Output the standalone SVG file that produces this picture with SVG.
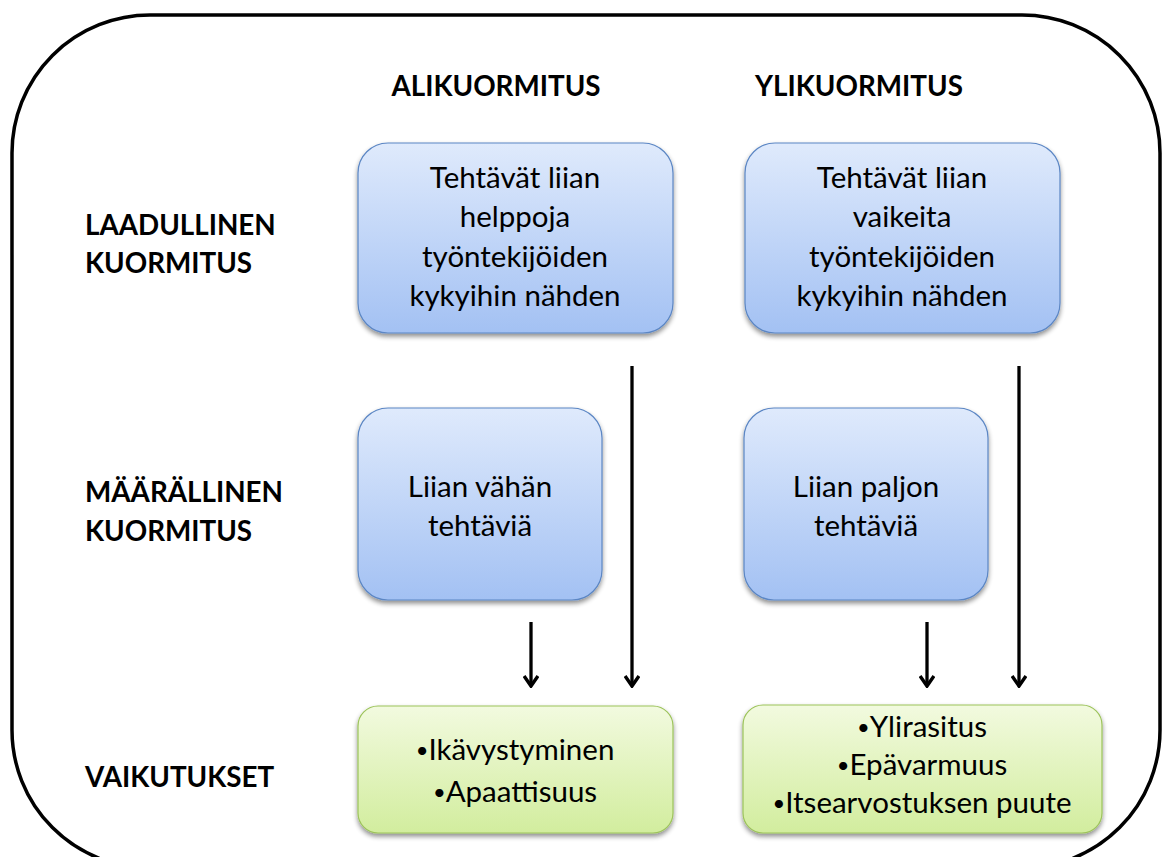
<svg xmlns="http://www.w3.org/2000/svg" width="1166" height="857" viewBox="0 0 1166 857">
  <defs>
    <linearGradient id="gBlue" x1="0" y1="0" x2="0" y2="1">
      <stop offset="0" stop-color="#dfeafc"/>
      <stop offset="1" stop-color="#a3c1f3"/>
    </linearGradient>
    <linearGradient id="gGreen" x1="0" y1="0" x2="0" y2="1">
      <stop offset="0" stop-color="#f2fadf"/>
      <stop offset="1" stop-color="#d2ed9e"/>
    </linearGradient>
    <filter id="shadow" x="-10%" y="-10%" width="120%" height="125%">
      <feGaussianBlur in="SourceAlpha" stdDeviation="2.5"/>
      <feOffset dx="0" dy="3" result="b"/>
      <feComponentTransfer><feFuncA type="linear" slope="0.45"/></feComponentTransfer>
      <feMerge><feMergeNode/><feMergeNode in="SourceGraphic"/></feMerge>
    </filter>
    <marker id="arrow" viewBox="0 0 14 16" refX="12" refY="8" markerWidth="14" markerHeight="16" markerUnits="userSpaceOnUse" orient="auto">
      <path d="M2,1 L12,8 L2,15" fill="none" stroke="#000" stroke-width="3.5"/>
    </marker>
  </defs>
  <style>
    .frame { fill: #fff; stroke: #000; stroke-width: 3.5; }
    .blue { fill: url(#gBlue); stroke: #5b86c4; stroke-width: 1.2; filter: url(#shadow); }
    .green { fill: url(#gGreen); stroke: #9cc35a; stroke-width: 1.2; filter: url(#shadow); }
    .t { font-family: Lato, "Open Sans", sans-serif; font-size: 29.5px; fill: #000; text-anchor: middle; }
    .h { font-family: Lato, "Open Sans", sans-serif; font-size: 27.8px; font-weight: bold; fill: #000; }
    .c { text-anchor: middle; }
    .b { font-size: 22px; }
    .conn line { stroke: #000; stroke-width: 3.3; marker-end: url(#arrow); }
  </style>

  <rect class="frame" x="12" y="15" width="1148" height="853" rx="138" ry="138"/>

  <g id="header-ali"><text class="h c" x="496" y="96">ALIKUORMITUS</text></g>
  <g id="header-yli"><text class="h c" x="859" y="96">YLIKUORMITUS</text></g>

  <g id="label-laadullinen">
    <text class="h" x="85" y="235">LAADULLINEN</text>
    <text class="h" x="85" y="273">KUORMITUS</text>
  </g>
  <g id="label-maarallinen">
    <text class="h" x="85" y="502">MÄÄRÄLLINEN</text>
    <text class="h" x="85" y="541">KUORMITUS</text>
  </g>
  <g id="label-vaikutukset">
    <text class="h" x="85" y="787">VAIKUTUKSET</text>
  </g>

  <g id="box-laad-ali">
    <rect class="blue" x="358" y="143" width="315" height="190" rx="30"/>
    <text class="t" x="515" y="188">Tehtävät liian</text>
    <text class="t" x="515" y="227">helppoja</text>
    <text class="t" x="515" y="267">työntekijöiden</text>
    <text class="t" x="515" y="306">kykyihin nähden</text>
  </g>
  <g id="box-laad-yli">
    <rect class="blue" x="745" y="143" width="315" height="190" rx="30"/>
    <text class="t" x="902" y="188">Tehtävät liian</text>
    <text class="t" x="902" y="227">vaikeita</text>
    <text class="t" x="902" y="267">työntekijöiden</text>
    <text class="t" x="902" y="306">kykyihin nähden</text>
  </g>
  <g id="box-maar-ali">
    <rect class="blue" x="358" y="408" width="244" height="192" rx="30"/>
    <text class="t" x="480" y="497">Liian vähän</text>
    <text class="t" x="480" y="536">tehtäviä</text>
  </g>
  <g id="box-maar-yli">
    <rect class="blue" x="744" y="408" width="244" height="192" rx="30"/>
    <text class="t" x="866" y="497">Liian paljon</text>
    <text class="t" x="866" y="536">tehtäviä</text>
  </g>
  <g id="box-vaik-ali">
    <rect class="green" x="358" y="706" width="315" height="127" rx="20"/>
    <text class="t" x="515" y="760"><tspan class="b" dy="-2">•</tspan><tspan dy="2">Ikävystyminen</tspan></text>
    <text class="t" x="515" y="802"><tspan class="b" dy="-2">•</tspan><tspan dy="2">Apaattisuus</tspan></text>
  </g>
  <g id="box-vaik-yli">
    <rect class="green" x="743" y="705" width="359" height="128" rx="20"/>
    <text class="t" x="922" y="737"><tspan class="b" dy="-2">•</tspan><tspan dy="2">Ylirasitus</tspan></text>
    <text class="t" x="922" y="775"><tspan class="b" dy="-2">•</tspan><tspan dy="2">Epävarmuus</tspan></text>
    <text class="t" x="922" y="813"><tspan class="b" dy="-2">•</tspan><tspan dy="2">Itsearvostuksen puute</tspan></text>
  </g>

  <g id="connectors" class="conn">
    <line x1="531" y1="622" x2="531" y2="686"/>
    <line x1="632" y1="366" x2="632" y2="686"/>
    <line x1="927" y1="622" x2="927" y2="686"/>
    <line x1="1019" y1="366" x2="1019" y2="686"/>
  </g>
</svg>
